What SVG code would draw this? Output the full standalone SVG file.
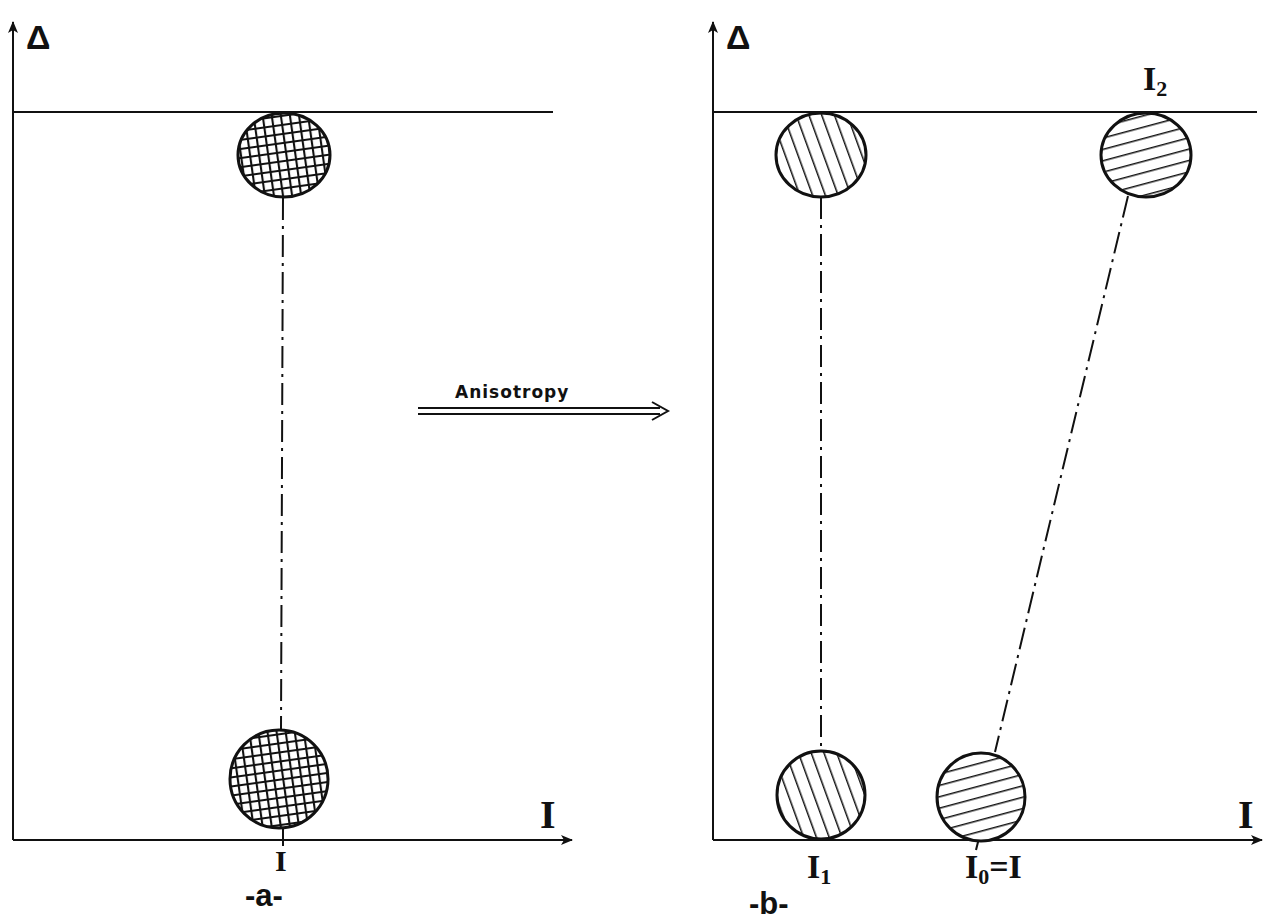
<svg xmlns="http://www.w3.org/2000/svg" width="1265" height="920" viewBox="0 0 1265 920">
<style>
.ax{stroke:#111;stroke-width:2;fill:none}
.dd{stroke:#111;stroke-width:2;fill:none;stroke-dasharray:22 6 3 6}
.circ{stroke:#111;stroke-width:3;}
.lbl{font-family:"Liberation Serif",serif;font-weight:bold;fill:#111}
.sans{font-family:"Liberation Sans",Arial,sans-serif;font-weight:bold;fill:#111}
</style>
<defs>
<marker id="ah" markerWidth="12" markerHeight="10" refX="11" refY="5" orient="auto" markerUnits="userSpaceOnUse">
<path d="M0,0 L12,5 L0,10 L3,5 Z" fill="#111"/>
</marker>
<pattern id="grid" width="9" height="9" patternUnits="userSpaceOnUse" patternTransform="rotate(-8)">
<rect width="9" height="9" fill="#fff"/>
<path d="M0,0 H9 M0,0 V9" stroke="#111" stroke-width="4.2"/>
</pattern>
<pattern id="steep" width="12" height="12" patternUnits="userSpaceOnUse" patternTransform="rotate(-20)">
<rect width="12" height="12" fill="#fff"/>
<path d="M0,0 V12" stroke="#111" stroke-width="3"/>
</pattern>
<pattern id="flat" width="11" height="11" patternUnits="userSpaceOnUse" patternTransform="rotate(-15)">
<rect width="11" height="11" fill="#fff"/>
<path d="M0,0 H11" stroke="#111" stroke-width="3"/>
</pattern>
</defs>
<rect width="1265" height="920" fill="#fff"/>

<g id="axes-a">
<line class="ax" x1="13" y1="840" x2="13" y2="22" marker-end="url(#ah)"/>
<line class="ax" x1="13" y1="840" x2="572" y2="840" marker-end="url(#ah)"/>
<line class="ax" x1="13" y1="112" x2="553" y2="112"/>
<text class="sans" x="26" y="49" font-size="34">Δ</text>
<text class="lbl" x="540" y="828" font-size="40">I</text>
<line class="ax" x1="283" y1="828" x2="283" y2="846"/>
<text class="lbl" x="275" y="871" font-size="30">I</text>
<text class="sans" x="245" y="906" font-size="31">-a-</text>
</g>

<g id="axes-b">
<line class="ax" x1="713" y1="840" x2="713" y2="22" marker-end="url(#ah)"/>
<line class="ax" x1="713" y1="840" x2="1262" y2="840" marker-end="url(#ah)"/>
<line class="ax" x1="713" y1="112" x2="1257" y2="112"/>
<text class="sans" x="726" y="49" font-size="34">Δ</text>
<text class="lbl" x="1238" y="828" font-size="40">I</text>
<text class="lbl" x="807" y="878" font-size="34">I<tspan font-size="22" dy="6">1</tspan></text>
<text class="lbl" x="965" y="878" font-size="34">I<tspan font-size="22" dy="6">0</tspan><tspan dy="-6">=I</tspan></text>
<text class="lbl" x="1143" y="90" font-size="34">I<tspan font-size="22" dy="6">2</tspan></text>
<text class="sans" x="749" y="914" font-size="31">-b-</text>
<line class="ax" x1="979" y1="838" x2="976" y2="850"/>
</g>

<g id="connectors">
<line class="dd" x1="283" y1="198" x2="281" y2="730"/>
<line class="dd" x1="821" y1="197" x2="821" y2="750"/>
<line class="dd" x1="1128" y1="196" x2="995" y2="752"/>
</g>

<g id="node-a-top"><ellipse class="circ" cx="284" cy="155" rx="46" ry="42" fill="url(#grid)" stroke-width="3.5"/></g>
<g id="node-a-bottom"><circle class="circ" cx="279" cy="779" r="49" fill="url(#grid)" stroke-width="3.5"/></g>
<g id="node-b-top-left"><ellipse class="circ" cx="821" cy="155" rx="45" ry="42" fill="url(#steep)" stroke-width="2.5"/></g>
<g id="node-b-top-right"><ellipse class="circ" cx="1146" cy="155" rx="45" ry="42" fill="url(#flat)" stroke-width="2.5"/></g>
<g id="node-b-bottom-left"><circle class="circ" cx="821" cy="795" r="44" fill="url(#steep)" stroke-width="2.5"/></g>
<g id="node-b-bottom-right"><circle class="circ" cx="981" cy="797" r="44" fill="url(#flat)" stroke-width="2.5"/></g>

<g id="anisotropy">
<text x="455" y="398" font-size="17" font-family="'DejaVu Sans',sans-serif" font-weight="bold" fill="#111" letter-spacing="1">Anisotropy</text>
<line x1="418" y1="408" x2="660" y2="408" stroke="#111" stroke-width="2"/>
<line x1="418" y1="414" x2="660" y2="414" stroke="#111" stroke-width="2"/>
<path d="M652,402 L668,411 L652,420" fill="none" stroke="#111" stroke-width="2"/>
</g>
</svg>
